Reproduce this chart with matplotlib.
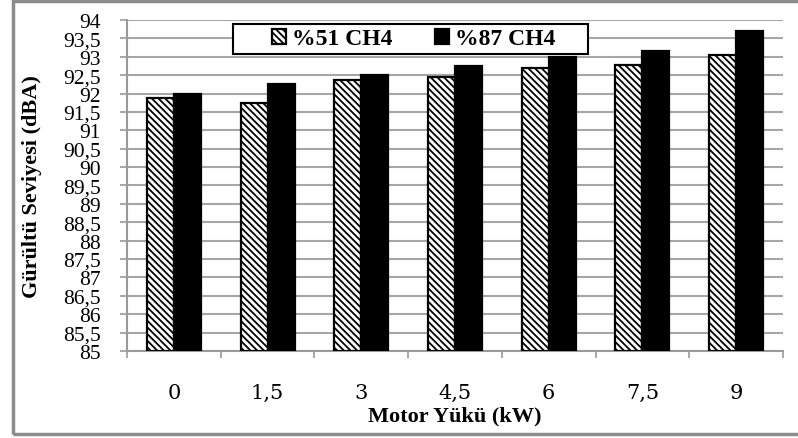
import matplotlib
matplotlib.use("Agg")
import matplotlib.pyplot as plt
import numpy as np
from matplotlib.patches import Rectangle

# data
loads = ["0", "1,5", "3", "4,5", "6", "7,5", "9"]
ch4_51 = [91.88, 91.75, 92.37, 92.46, 92.70, 92.77, 93.05]
ch4_87 = [91.99, 92.26, 92.50, 92.74, 92.99, 93.15, 93.69]
y_ticks = np.arange(85, 94.01, 0.5)
y_labels = [f"{v:g}".replace(".", ",") for v in y_ticks]

SERIF = "Liberation Serif"
plt.rcParams["hatch.linewidth"] = 1.3

fig = plt.figure(figsize=(7.98, 4.39), dpi=100)
ax = fig.add_axes([0.1591, 0.1982, 0.8221, 0.754])

x = np.arange(len(loads))
w = 0.288
ax.bar(x - w / 2, np.array(ch4_51) - 85, w, bottom=85, color="white",
       edgecolor="black", linewidth=1.6, hatch="\\\\\\\\\\", label="%51 CH4", zorder=3)
ax.bar(x + w / 2, np.array(ch4_87) - 85, w, bottom=85, color="black",
       edgecolor="black", linewidth=1.6, label="%87 CH4", zorder=3)

ax.set_ylim(85, 94)
ax.set_xlim(-0.5, len(loads) - 0.5)
ax.set_yticks(y_ticks)
ax.set_yticklabels(y_labels, fontfamily=SERIF, fontsize=15.5)
ax.tick_params(axis="y", length=5, width=1.2, color="#9a9a9a", pad=14)
ax.yaxis.grid(True, color="#a6a6a6", linewidth=1.5, zorder=0)

ax.set_xticks(x)
ax.set_xticklabels(loads, fontfamily="DejaVu Serif", fontsize=15)
ax.set_xticks(np.arange(-0.5, len(loads)), minor=True)
ax.tick_params(axis="x", which="major", length=0, pad=23)
ax.tick_params(axis="x", which="minor", length=5, width=1.2, color="#9a9a9a")

for s in ["top", "right"]:
    ax.spines[s].set_visible(False)
for s in ["left", "bottom"]:
    ax.spines[s].set_color("#9a9a9a")
    ax.spines[s].set_linewidth(1.5)

ax.set_xlabel("Motor Yükü (kW)", fontfamily=SERIF, fontweight="bold",
              fontsize=16, va="center")
ax.xaxis.set_label_coords(0.5, -0.196)
ax.set_ylabel("Gürültü Seviyesi (dBA)", fontfamily=SERIF, fontweight="bold",
              fontsize=16, va="center")
ax.yaxis.set_label_coords(-0.145, 0.5)

leg = ax.legend(loc="center", bbox_to_anchor=(0.4375, 0.9426), ncol=2,
                prop={"family": SERIF, "weight": "bold", "size": 17},
                frameon=False, handlelength=0.6, handleheight=0.6,
                handletextpad=0.25, columnspacing=1.8, borderpad=0.0)
leg.set_zorder(6)

# legend box as drawn in the reference
ax.add_patch(Rectangle((0.1616, 0.897), 0.5414, 0.091, transform=ax.transAxes,
                       facecolor="white", edgecolor="black", linewidth=1.5,
                       zorder=5, clip_on=False))

# outer chart border
fig.patches.append(Rectangle((13 / 798, 4 / 439), 800 / 798, 433 / 439,
                             transform=fig.transFigure, fill=False,
                             edgecolor="#8c8c8c", linewidth=2.5))

fig.savefig("out.png", dpi=100)
